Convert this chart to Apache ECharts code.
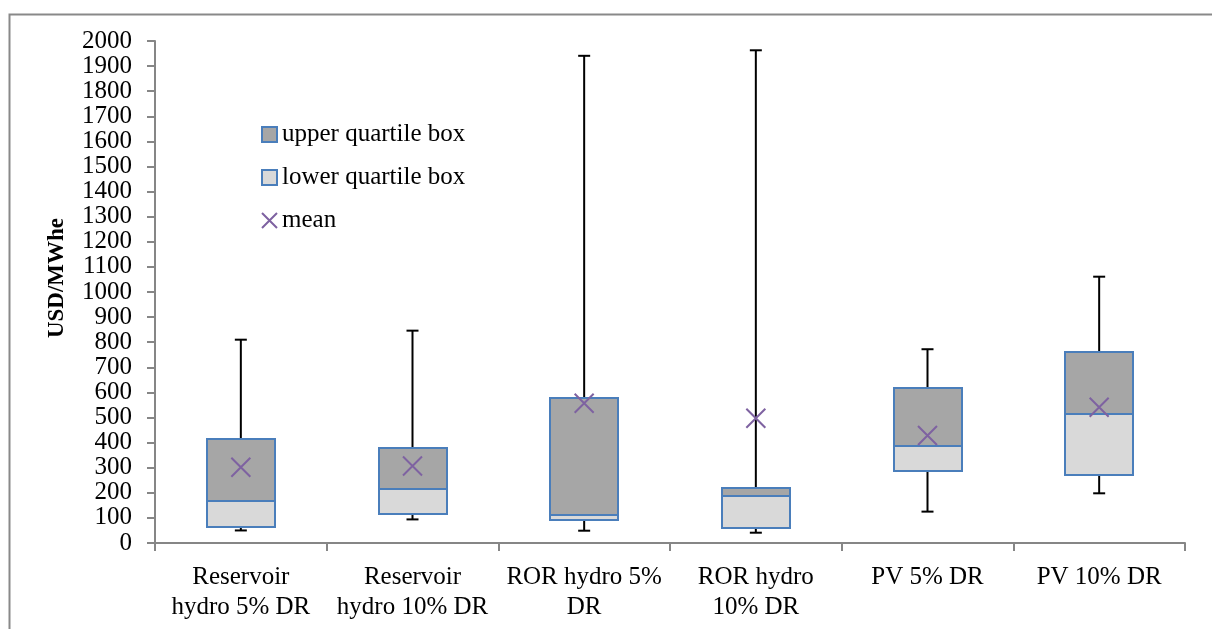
<!DOCTYPE html>
<html>
<head>
<meta charset="utf-8">
<script src="https://cdn.jsdelivr.net/npm/echarts@6/dist/echarts.min.js"></script>
<style>
html,body{margin:0;padding:0;background:#fff;}
#chart{width:1212px;height:629px;}
</style>
</head>
<body>
<div id="chart"></div>
<script>
var categories = ["Reservoir\nhydro 5% DR", "Reservoir\nhydro 10% DR", "ROR hydro 5%\nDR", "ROR hydro\n10% DR", "PV 5% DR", "PV 10% DR"];
var whiskerMin = [50, 94, 49, 41, 125, 198];
var q1 = [64, 116, 92, 61, 286, 272];
var median = [168, 214, 112, 188, 386, 515];
var q3 = [415, 377, 576, 219, 616, 761];
var whiskerMax = [810, 846, 1941, 1963, 772, 1061];
var mean = [302, 307, 557, 497, 428, 541];
var yTicks = {min: 0, max: 2000, interval: 100};

var FONT = '"Liberation Serif", "Times New Roman", serif';
var boxBorder = '#4a7ebb';
var upperFill = '#a6a6a6';
var lowerFill = '#d9d9d9';
var meanColor = '#7e62a1';
var crossPath = 'path://M0,0L10,10M10,0L0,10';
var BOX_W = 68;

var whiskerData = categories.map(function (c, i) { return [i, whiskerMin[i], whiskerMax[i]]; });
var lowerData = categories.map(function (c, i) { return [i, q1[i], median[i]]; });
var upperData = categories.map(function (c, i) { return [i, median[i], q3[i]]; });

function boxRenderer(fill) {
  return function (params, api) {
    var i = api.value(0);
    var a = api.coord([i, api.value(1)]);
    var b = api.coord([i, api.value(2)]);
    var x = Math.round(a[0] - BOX_W / 2);
    var y1 = Math.round(Math.min(a[1], b[1]));
    var y2 = Math.round(Math.max(a[1], b[1]));
    return {
      type: 'rect',
      shape: {x: x, y: y1, width: BOX_W, height: y2 - y1},
      style: {fill: fill, stroke: boxBorder, lineWidth: 2}
    };
  };
}

var chart = echarts.init(document.getElementById('chart'));
chart.setOption({
  animation: false,
  backgroundColor: '#ffffff',
  graphic: [{
    type: 'rect', left: 7, top: 12, silent: true, z: -10,
    shape: {x: 0, y: 0, width: 1240, height: 700},
    style: {fill: 'none', stroke: '#898989', lineWidth: 2}
  }],
  grid: {left: 155, right: 27, top: 41, bottom: 86, containLabel: false},
  legend: {
    orient: 'vertical', left: 256, top: 117, itemGap: 18,
    itemWidth: 15, itemHeight: 15,
    textStyle: {fontFamily: FONT, fontSize: 25, color: '#000'},
    data: [
      {name: 'upper quartile box', icon: 'rect', itemStyle: {color: upperFill, borderColor: boxBorder, borderWidth: 2}},
      {name: 'lower quartile box', icon: 'rect', itemStyle: {color: lowerFill, borderColor: boxBorder, borderWidth: 2}},
      {name: 'mean', icon: crossPath, itemStyle: {color: 'transparent', borderColor: meanColor, borderWidth: 2}}
    ]
  },
  xAxis: {
    type: 'category', data: categories,
    axisLine: {lineStyle: {color: '#868686', width: 2}},
    axisTick: {show: true, length: 8, lineStyle: {color: '#868686', width: 2}},
    axisLabel: {interval: 0, margin: 19, fontFamily: FONT, fontSize: 25, lineHeight: 30, color: '#000'},
    splitLine: {show: false}
  },
  yAxis: {
    type: 'value', min: yTicks.min, max: yTicks.max, interval: yTicks.interval,
    name: 'USD/MWhe', nameLocation: 'middle', nameGap: 86, nameRotate: 90,
    nameTextStyle: {fontFamily: FONT, fontSize: 23, fontWeight: 'bold', color: '#000', padding: [0, 0, 0, 28]},
    axisLine: {show: true, lineStyle: {color: '#868686', width: 2}},
    axisTick: {show: true, length: 8, lineStyle: {color: '#868686', width: 2}},
    axisLabel: {margin: 23, fontFamily: FONT, fontSize: 25, color: '#000',
      formatter: function (v) { return String(v); }},
    splitLine: {show: false}
  },
  series: [
    {
      name: 'whisker', type: 'custom', z: 1, silent: true,
      encode: {x: 0, y: [1, 2]},
      data: whiskerData,
      renderItem: function (params, api) {
        var i = api.value(0);
        var lo = api.coord([i, api.value(1)]);
        var hi = api.coord([i, api.value(2)]);
        var cap = 6;
        var st = {stroke: '#000', lineWidth: 2};
        return {type: 'group', children: [
          {type: 'line', shape: {x1: lo[0], y1: lo[1], x2: hi[0], y2: hi[1]}, style: st},
          {type: 'line', shape: {x1: lo[0] - cap, y1: lo[1], x2: lo[0] + cap, y2: lo[1]}, style: st},
          {type: 'line', shape: {x1: hi[0] - cap, y1: hi[1], x2: hi[0] + cap, y2: hi[1]}, style: st}
        ]};
      }
    },
    {
      name: 'lower quartile box', type: 'custom', z: 2, silent: true,
      encode: {x: 0, y: [1, 2]},
      itemStyle: {color: lowerFill, borderColor: boxBorder, borderWidth: 2},
      data: lowerData,
      renderItem: boxRenderer(lowerFill)
    },
    {
      name: 'upper quartile box', type: 'custom', z: 2, silent: true,
      encode: {x: 0, y: [1, 2]},
      itemStyle: {color: upperFill, borderColor: boxBorder, borderWidth: 2},
      data: upperData,
      renderItem: boxRenderer(upperFill)
    },
    {
      name: 'mean', type: 'scatter', z: 3, silent: true,
      symbol: crossPath, symbolSize: 19,
      itemStyle: {color: 'transparent', borderColor: meanColor, borderWidth: 2, opacity: 1},
      data: mean
    }
  ]
});
</script>
</body>
</html>
